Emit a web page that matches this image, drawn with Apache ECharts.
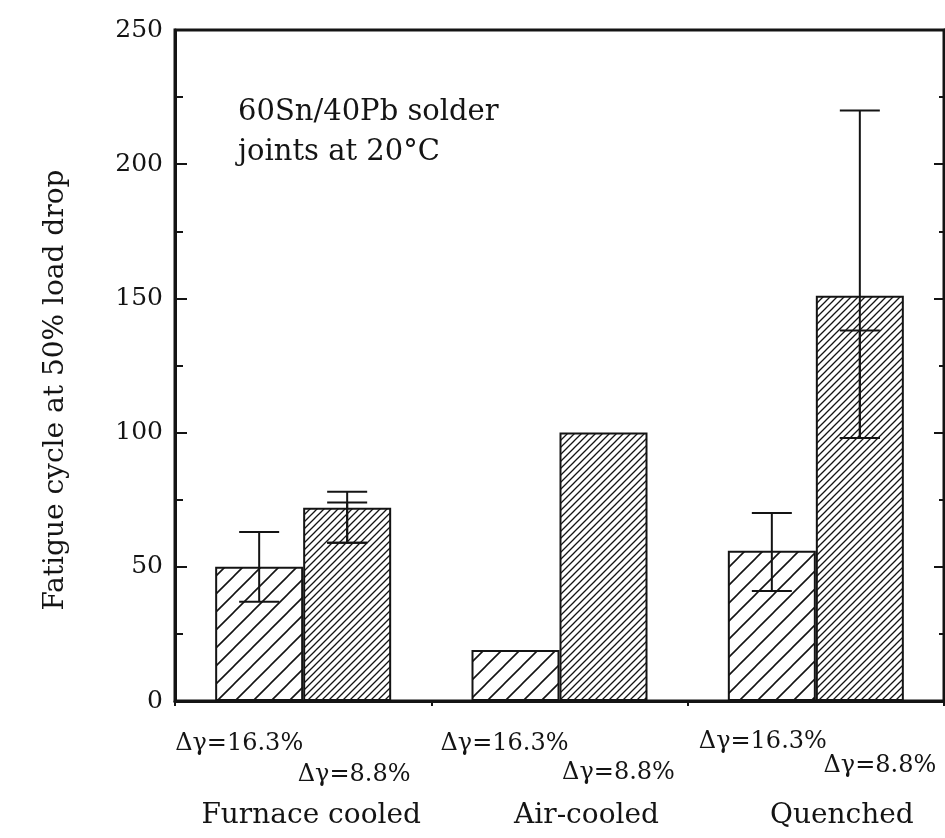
<!DOCTYPE html>
<html>
<head>
<meta charset="utf-8">
<script src="https://cdn.jsdelivr.net/npm/echarts@6/dist/echarts.min.js"></script>
<style>
  html, body { margin: 0; padding: 0; background: #fff; }
  #chart { width: 945px; height: 838px; }
</style>
</head>
<body>
<div id="chart"></div>
<script>
// cooling conditions
const categories = ['Furnace cooled', 'Air-cooled', 'Quenched'];
// strain range of the two bars in each group
const strainLabels = ['Δγ=16.3%', 'Δγ=8.8%'];
// fatigue cycles at 50% load drop
const cyclesHigh = [50, 19, 56];   // Δγ=16.3%
const cyclesLow = [72, 100, 151];  // Δγ=8.8%
// scatter bands: [group, bar, low, high]
const errorRanges = [
    [0, 0, 37, 63],
    [0, 1, 59, 78],
    [0, 1, 59, 74],
    [2, 0, 41, 70],
    [2, 1, 98, 220],
    [2, 1, 98, 138]
];
const yTicks = [0, 50, 100, 150, 200, 250];
const yTitle = 'Fatigue cycle at 50% load drop';
const note = '60Sn/40Pb solder\njoints at 20°C';

const FONT = 'DejaVu Serif';
const INK = '#141414';
const barWidth = 88;
const capHalf = 20;

// label nudges (px) per group, the scanned figure is not regular
const shiftHigh = [[-20, 0], [-11, 0], [-9, -2]];
const shiftLow = [[7, 0], [15, -2], [20, -9]];
const nameShift = [16, 54, 52];

function hatch(step, lw) {
    const c = document.createElement('canvas');
    c.width = step;
    c.height = step;
    const ctx = c.getContext('2d');
    ctx.fillStyle = '#fff';
    ctx.fillRect(0, 0, step, step);
    ctx.strokeStyle = INK;
    ctx.lineWidth = lw;
    ctx.beginPath();
    ctx.moveTo(0, step); ctx.lineTo(step, 0);
    ctx.moveTo(-step, step); ctx.lineTo(step, -step);
    ctx.moveTo(0, 2 * step); ctx.lineTo(2 * step, 0);
    ctx.stroke();
    return c;
}

const chart = echarts.init(document.getElementById('chart'));

const rich = {};
categories.forEach((c, i) => {
    rich['g' + i] = { fontFamily: FONT, fontSize: 28, color: INK, padding: [0, 0, 0, nameShift[i]] };
});

chart.setOption({
    backgroundColor: '#fff',
    animation: false,
    grid: { left: 175, right: 1, top: 30, bottom: 137, show: true, borderColor: INK, borderWidth: 3 },
    xAxis: {
        type: 'category',
        data: categories,
        axisLine: { lineStyle: { color: INK, width: 3 } },
        axisTick: { show: true, length: 5, lineStyle: { color: INK, width: 2 } },
        axisLabel: {
            margin: 101,
            formatter: (v, i) => '{g' + i + '|' + v + '}',
            rich
        }
    },
    yAxis: [
        {
            type: 'value',
            min: yTicks[0],
            max: yTicks[yTicks.length - 1],
            interval: yTicks[1] - yTicks[0],
            axisLine: { show: true, lineStyle: { color: INK, width: 3 } },
            axisTick: { show: true, inside: true, length: 12, lineStyle: { color: INK, width: 2 } },
            minorTick: { show: true, splitNumber: 2, length: 8, lineStyle: { color: INK, width: 2 } },
            splitLine: { show: false },
            axisLabel: { fontFamily: FONT, fontSize: 25, color: INK, margin: 12, padding: [0, 0, 12, 0] }
        },
        {
            type: 'value',
            position: 'right',
            min: yTicks[0],
            max: yTicks[yTicks.length - 1],
            interval: yTicks[1] - yTicks[0],
            axisLine: { show: true, lineStyle: { color: INK, width: 3 } },
            axisTick: { show: true, inside: true, length: 10, lineStyle: { color: INK, width: 2 } },
            minorTick: { show: true, splitNumber: 2, length: 5, lineStyle: { color: INK, width: 2 } },
            splitLine: { show: false },
            axisLabel: { show: false }
        }
    ],
    graphic: [
        {
            type: 'text',
            left: 238,
            top: 92,
            style: {
                text: note,
                fontFamily: FONT,
                fontSize: 29,
                lineHeight: 40,
                fill: INK
            }
        },
        {
            type: 'text',
            x: 56,
            y: 390,
            rotation: Math.PI / 2,
            style: {
                text: yTitle,
                fontFamily: FONT,
                fontSize: 28,
                fill: INK,
                align: 'center',
                verticalAlign: 'middle'
            }
        }
    ],
    series: [
        {
            type: 'bar',
            barWidth: barWidth,
            barGap: '0%',
            data: cyclesHigh.map((v, i) => ({ value: v, label: { offset: shiftHigh[i] } })),
            itemStyle: { color: { image: hatch(18, 1.6), repeat: 'repeat' }, borderColor: INK, borderWidth: 2 },
            label: {
                show: true, position: 'bottom', distance: 31,
                formatter: strainLabels[0],
                fontFamily: FONT, fontSize: 24, color: INK
            }
        },
        {
            type: 'bar',
            barWidth: barWidth,
            barGap: '0%',
            data: cyclesLow.map((v, i) => ({ value: v, label: { offset: shiftLow[i] } })),
            itemStyle: { color: { image: hatch(7, 1.3), repeat: 'repeat' }, borderColor: INK, borderWidth: 2 },
            label: {
                show: true, position: 'bottom', distance: 62,
                formatter: strainLabels[1],
                fontFamily: FONT, fontSize: 24, color: INK
            }
        },
        {
            type: 'custom',
            z: 5,
            data: errorRanges,
            encode: { x: 0, y: [2, 3] },
            renderItem(params, api) {
                const g = api.value(0);
                const b = api.value(1);
                const lo = api.coord([g, api.value(2)]);
                const hi = api.coord([g, api.value(3)]);
                const x = lo[0] + (b === 0 ? -barWidth / 2 : barWidth / 2);
                const style = { stroke: INK, lineWidth: 2 };
                return {
                    type: 'group',
                    children: [
                        { type: 'line', shape: { x1: x, y1: lo[1], x2: x, y2: hi[1] }, style },
                        { type: 'line', shape: { x1: x - capHalf, y1: lo[1], x2: x + capHalf, y2: lo[1] }, style },
                        { type: 'line', shape: { x1: x - capHalf, y1: hi[1], x2: x + capHalf, y2: hi[1] }, style }
                    ]
                };
            }
        }
    ]
});
</script>
</body>
</html>
